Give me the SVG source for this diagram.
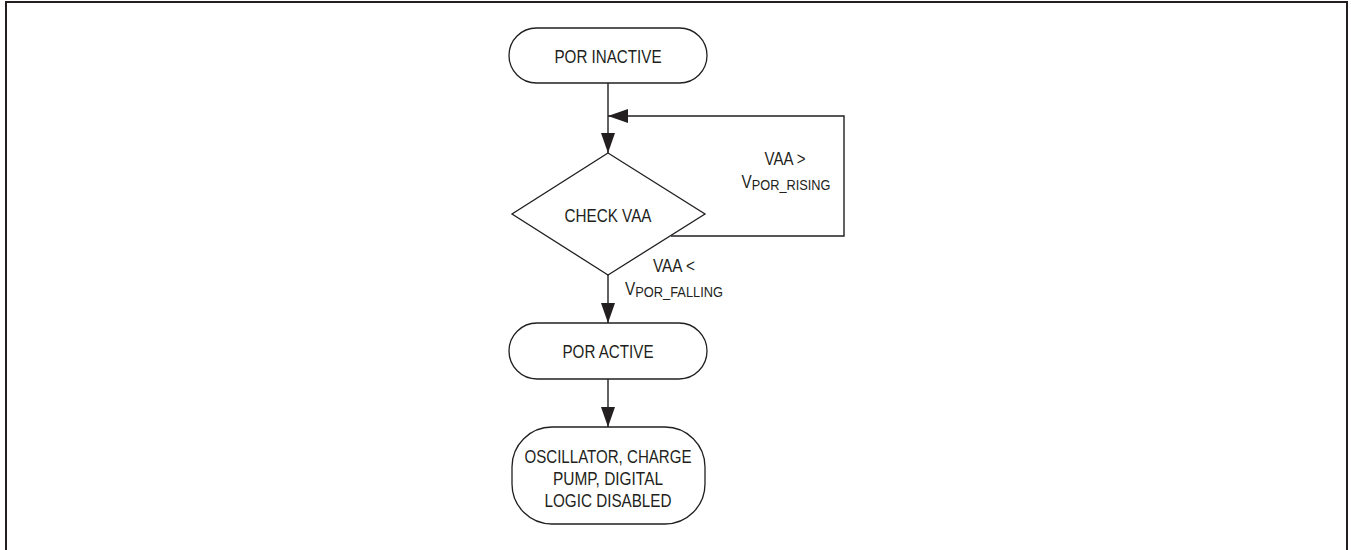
<svg xmlns="http://www.w3.org/2000/svg" width="1351" height="550" viewBox="0 0 1351 550">
<defs>
<style>
.frame{fill:none;stroke:#231f20;stroke-width:2}
.node{fill:#fff;stroke:#231f20;stroke-width:1.3}
.edge{fill:none;stroke:#231f20;stroke-width:1.4}
text{font-family:"Liberation Sans",Arial,sans-serif;font-size:18px;fill:#231f20;text-anchor:middle}
.sub{font-size:15px}
</style>
<marker id="arr" viewBox="0 0 20 14" refX="20" refY="7" markerWidth="20" markerHeight="14" markerUnits="userSpaceOnUse" orient="auto">
<path d="M0,0 L20,7 L0,14 Z" fill="#231f20"/>
</marker>
</defs>
<rect x="0" y="0" width="1351" height="550" fill="#fff"/>
<path class="frame" d="M6,552 V2 H1347 V552"/>
<g id="connectors">
<line class="edge" x1="608" y1="83" x2="608" y2="153" marker-end="url(#arr)"/>
<polyline class="edge" points="671,236 844,236 844,116 608,116" marker-end="url(#arr)"/>
<line class="edge" x1="608" y1="275" x2="608" y2="323" marker-end="url(#arr)"/>
<line class="edge" x1="608" y1="379" x2="608" y2="427" marker-end="url(#arr)"/>
<text x="785" y="165" textLength="41" lengthAdjust="spacingAndGlyphs">VAA &gt;</text>
<text x="786" y="188" textLength="89" lengthAdjust="spacingAndGlyphs">V<tspan class="sub" dy="2">POR_RISING</tspan></text>
<text x="674" y="272" textLength="42" lengthAdjust="spacingAndGlyphs">VAA &lt;</text>
<text x="674" y="295" textLength="98" lengthAdjust="spacingAndGlyphs">V<tspan class="sub" dy="2">POR_FALLING</tspan></text>
</g>
<g id="por-inactive">
<rect class="node" x="509" y="28" width="198" height="55" rx="27.5"/>
<text x="608" y="63" textLength="107" lengthAdjust="spacingAndGlyphs">POR INACTIVE</text>
</g>
<g id="check-vaa">
<polygon class="node" points="608,153 705,214 608,275 512,214"/>
<text x="608" y="222" textLength="87" lengthAdjust="spacingAndGlyphs">CHECK VAA</text>
</g>
<g id="por-active">
<rect class="node" x="509" y="323" width="198" height="56" rx="28"/>
<text x="608" y="358" textLength="91" lengthAdjust="spacingAndGlyphs">POR ACTIVE</text>
</g>
<g id="disabled">
<rect class="node" x="512" y="427" width="193" height="97" rx="40"/>
<text x="608" y="463" textLength="167" lengthAdjust="spacingAndGlyphs">OSCILLATOR, CHARGE</text>
<text x="608" y="485" textLength="110" lengthAdjust="spacingAndGlyphs">PUMP, DIGITAL</text>
<text x="608" y="507" textLength="127" lengthAdjust="spacingAndGlyphs">LOGIC DISABLED</text>
</g>
</svg>
